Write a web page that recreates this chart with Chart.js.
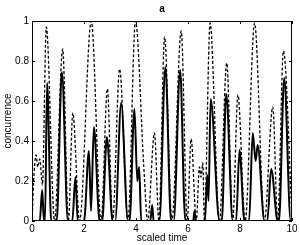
<!DOCTYPE html>
<html>
<head>
<meta charset="utf-8">
<script src="https://cdn.jsdelivr.net/npm/chart.js@4"></script>
<style>
  body { margin: 0; background: #fff; }
</style>
</head>
<body>
<canvas id="grafico" width="300" height="245"></canvas>
<script>
// tempo escalado e concorrencia
const tempoTracejada = [0, 0.08, 0.16, 0.22, 0.3, 0.4, 0.55, 0.87, 1.18, 1.4, 1.57, 1.83, 2.28, 2.66, 2.9, 3.1, 3.37, 3.69, 3.98, 4.3, 4.45, 4.71, 4.88, 5.1, 5.38, 5.74, 5.97, 6.12, 6.32, 6.44, 6.5, 6.57, 6.63, 6.85, 7.21, 7.49, 7.72, 7.92, 8.2, 8.56, 8.94, 9.26, 9.45, 9.67, 10];
const concTracejada = [0, 0.24, 0.33, 0.27, 0.31, 0.18, 0.97, 0, 0.86, 0, 0.54, 0, 1.0, 0, 0.66, 0, 0.76, 0, 1.0, 0.27, 0, 0.44, 0, 0.92, 0, 0.95, 0, 0.41, 0, 0.27, 0.22, 0.29, 0, 0.99, 0, 0.79, 0, 0.63, 0, 0.99, 0, 0.57, 0, 0.85, 0.02];

const tempoSolida = [0, 0.3, 0.39, 0.46, 0.5, 0.58, 0.74, 0.95, 1.15, 1.38, 1.55, 1.67, 1.76, 2.0, 2.19, 2.27, 2.38, 2.6, 2.7, 2.88, 3.1, 3.2, 3.43, 3.69, 3.75, 3.94, 4.05, 4.12, 4.2, 4.55, 4.62, 4.68, 4.9, 5.13, 5.35, 5.45, 5.7, 5.85, 5.9, 6.2, 6.25, 6.3, 6.65, 6.74, 6.79, 6.87, 7.21, 7.3, 7.47, 7.72, 7.85, 7.98, 8.17, 8.35, 8.49, 8.6, 8.68, 8.94, 9.05, 9.2, 9.45, 9.5, 9.7, 9.95, 10];
const concSolida = [0, 0, 0.155, 0, 0, 0.69, 0, 0, 0.745, 0, 0, 0.22, 0, 0, 0.35, 0.05, 0.47, 0, 0, 0.42, 0, 0, 0.59, 0, 0, 0.56, 0.2, 0.27, 0, 0, 0.08, 0, 0, 0.77, 0, 0, 0.755, 0.1, 0, 0, 0.05, 0, 0, 0.23, 0.1, 0.61, 0, 0, 0.635, 0, 0, 0.355, 0, 0, 0.44, 0.3, 0.38, 0, 0, 0.26, 0, 0, 0.715, 0, 0];

const ticksX = [0, 2, 4, 6, 8, 10];
const ticksY = [0, 0.2, 0.4, 0.6, 0.8, 1];

const fonte = "'Liberation Sans', Arial, sans-serif";

const pontos = (xs, ys) => xs.map((x, i) => ({ x: x, y: ys[i] }));

// caixa com marcas para dentro e o titulo "a"
const moldura = {
    id: 'moldura',
    afterDraw(chart) {
        const { ctx, chartArea: a, scales: { x, y } } = chart;
        ctx.save();
        ctx.strokeStyle = '#000';
        ctx.lineWidth = 1;
        ctx.strokeRect(Math.round(a.left) + 0.5, Math.round(a.top) + 0.5,
            Math.round(a.right - a.left) - 1, Math.round(a.bottom - a.top) - 1);
        ctx.beginPath();
        ticksX.forEach(v => {
            const px = Math.round(x.getPixelForValue(v)) + 0.5;
            ctx.moveTo(px, a.bottom); ctx.lineTo(px, a.bottom - 3);
            ctx.moveTo(px, a.top); ctx.lineTo(px, a.top + 3);
        });
        ticksY.forEach(v => {
            const py = Math.round(y.getPixelForValue(v)) + 0.5;
            ctx.moveTo(a.left, py); ctx.lineTo(a.left + 3, py);
            ctx.moveTo(a.right, py); ctx.lineTo(a.right - 3, py);
        });
        ctx.stroke();
        ctx.fillStyle = '#000';
        ctx.font = 'bold 10px ' + fonte;
        ctx.textAlign = 'center';
        ctx.textBaseline = 'middle';
        ctx.fillText('a', (a.left + a.right) / 2, 9);
        ctx.restore();
    }
};

const ctx = document.getElementById('grafico').getContext('2d');

const grafico = new Chart(ctx, {
    type: 'line',
    data: {
        datasets: [
            {
                label: 'tracejada',
                data: pontos(tempoTracejada, concTracejada),
                borderColor: '#000',
                borderWidth: 1.3,
                borderDash: [3, 2],
                pointRadius: 0,
                cubicInterpolationMode: 'monotone',
                fill: false
            },
            {
                label: 'solida',
                data: pontos(tempoSolida, concSolida),
                borderColor: '#000',
                borderWidth: 2,
                pointRadius: 0,
                cubicInterpolationMode: 'monotone',
                fill: false
            }
        ]
    },
    options: {
        responsive: false,
        animation: false,
        layout: { padding: { top: 21, right: 8, left: 0, bottom: 0 } },
        plugins: {
            legend: { display: false },
            tooltip: { enabled: false }
        },
        scales: {
            x: {
                type: 'linear',
                min: 0,
                max: 10,
                grid: { display: false, drawTicks: false },
                border: { display: false },
                ticks: { stepSize: 2, color: '#000', padding: 2, maxRotation: 0, font: { size: 10, family: fonte } },
                title: { display: true, text: 'scaled time', color: '#000', font: { size: 10, family: fonte }, padding: { top: 0, bottom: 1 } },
                afterFit(s) { s.height = 24; }
            },
            y: {
                min: 0,
                max: 1,
                grid: { display: false, drawTicks: false },
                border: { display: false },
                ticks: { stepSize: 0.2, color: '#000', padding: 3, font: { size: 10, family: fonte },
                    callback: v => String(Math.round(v * 10) / 10) },
                title: { display: true, text: 'concurrence', color: '#000', font: { size: 10, family: fonte }, padding: { top: 2, bottom: 0 } },
                afterFit(s) { s.width = 32; }
            }
        }
    },
    plugins: [moldura]
});
</script>
</body>
</html>
